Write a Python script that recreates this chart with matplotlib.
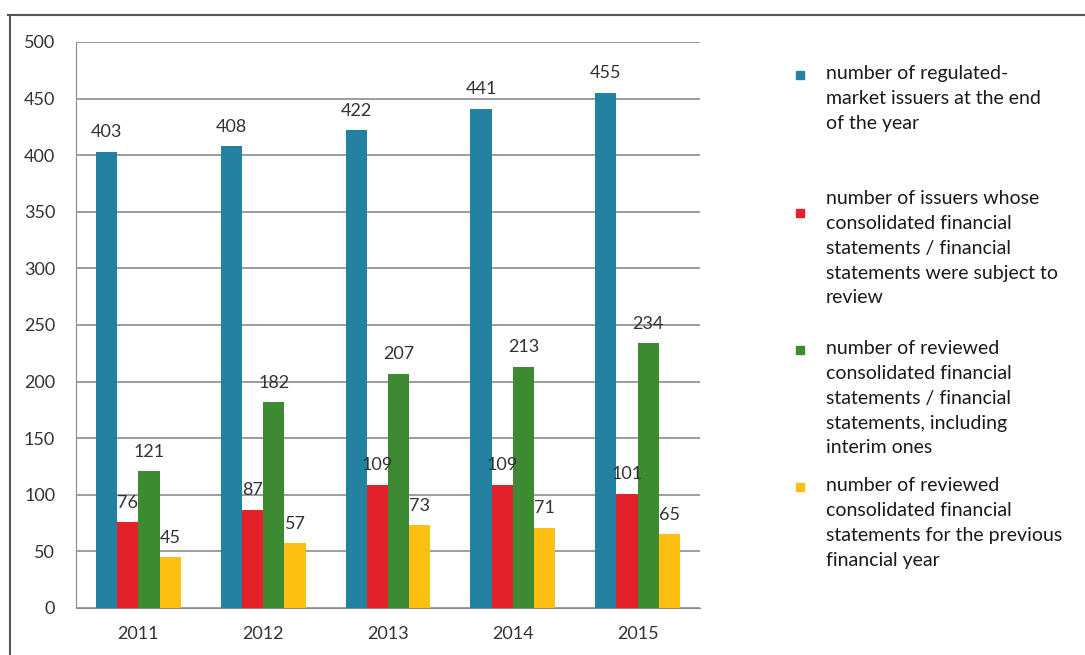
import matplotlib.pyplot as plt
import numpy as np
from matplotlib.lines import Line2D

plt.rcParams['font.family'] = ['Lato', 'DejaVu Sans']

years = ['2011', '2012', '2013', '2014', '2015']
issuers_end_year = [403, 408, 422, 441, 455]
issuers_reviewed = [76, 87, 109, 109, 101]
statements_reviewed = [121, 182, 207, 213, 234]
statements_prev_year = [45, 57, 73, 71, 65]

series = [issuers_end_year, issuers_reviewed, statements_reviewed, statements_prev_year]
colors = ['#2282a0', '#e3212b', '#3e8a32', '#fdbf12']
labels = [
    "number of regulated-\nmarket issuers at the end\nof the year",
    "number of issuers whose\nconsolidated financial\nstatements / financial\nstatements were subject to\nreview",
    "number of reviewed\nconsolidated financial\nstatements / financial\nstatements, including\ninterim ones",
    "number of reviewed\nconsolidated financial\nstatements for the previous\nfinancial year",
]

fig = plt.figure(figsize=(10.85, 6.55), dpi=100)
ax = fig.add_axes([76 / 1085, 1 - 608 / 655, (700 - 76) / 1085, (608 - 42) / 655])

x = np.arange(len(years))
width = 0.17
text_col = '#333333'
for i, (vals, col) in enumerate(zip(series, colors)):
    pos = x + (i - 1.5) * width
    bars = ax.bar(pos, vals, width, color=col, zorder=3)
    for b, v in zip(bars, vals):
        ax.annotate(str(v), (b.get_x() + b.get_width() / 2, v), xytext=(0, 14),
                    textcoords='offset points', ha='center', va='center',
                    fontsize=13, color=text_col, zorder=4)

ax.set_xlim(-0.5, len(years) - 0.5)
ax.set_ylim(0, 500)
ax.set_yticks(range(0, 501, 50))
ax.set_xticks(x)
ax.set_xticklabels(years)
ax.yaxis.grid(True, color='#8c8c8c', linewidth=1.2, zorder=0)
for s in ['top', 'right']:
    ax.spines[s].set_visible(False)
ax.spines['left'].set_color('#8c8c8c')
ax.spines['bottom'].set_color('#8c8c8c')
ax.tick_params(axis='both', length=0, labelsize=13, colors=text_col)
ax.tick_params(axis='y', pad=15)
ax.tick_params(axis='x', pad=13)

# legend drawn as separate entries to follow the picture's spacing
legend_y = [75, 213, 350, 487]
text_y = [75, 200, 350, 487]
for col, lab, my, ty in zip(colors, labels, legend_y, text_y):
    fig.add_artist(Line2D([800 / 1085], [1 - my / 655], marker='s', markersize=6,
                          color=col, linestyle='none'))
    fig.text(826 / 1085, 1 - (ty - 10) / 655, lab, ha='left', va='top',
             fontsize=14, color='#1a1a1a', linespacing=1.56)

# outer frame from the scanned page
fig.add_artist(Line2D([8 / 1085, 1], [1 - 15 / 655, 1 - 15 / 655], color='#555555', linewidth=1.5))
fig.add_artist(Line2D([10 / 1085, 10 / 1085], [0, 1 - 15 / 655], color='#555555', linewidth=1.5))

fig.savefig('out.png', dpi=100)
